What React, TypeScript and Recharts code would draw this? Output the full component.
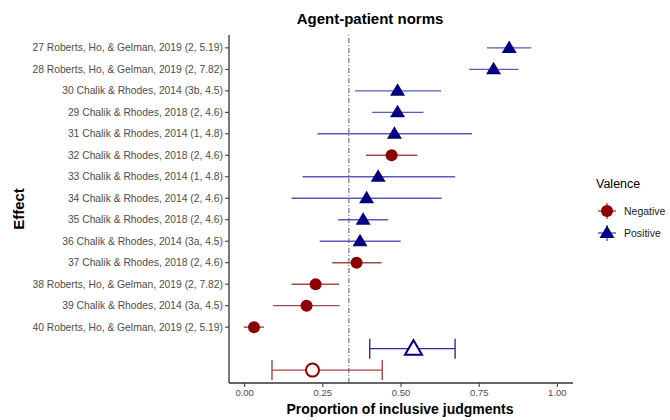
import React from "react";
import {
  ErrorBar,
  ReferenceLine,
  Scatter,
  ScatterChart,
  XAxis,
  YAxis,
} from "recharts";

// study rows, top to bottom
const effectLabels = [
  "27 Roberts, Ho, & Gelman, 2019 (2, 5.19)",
  "28 Roberts, Ho, & Gelman, 2019 (2, 7.82)",
  "30 Chalik & Rhodes, 2014 (3b, 4.5)",
  "29 Chalik & Rhodes, 2018 (2, 4.6)",
  "31 Chalik & Rhodes, 2014 (1, 4.8)",
  "32 Chalik & Rhodes, 2018 (2, 4.6)",
  "33 Chalik & Rhodes, 2014 (1, 4.8)",
  "34 Chalik & Rhodes, 2014 (2, 4.6)",
  "35 Chalik & Rhodes, 2018 (2, 4.6)",
  "36 Chalik & Rhodes, 2014 (3a, 4.5)",
  "37 Chalik & Rhodes, 2018 (2, 4.6)",
  "38 Roberts, Ho, & Gelman, 2019 (2, 7.82)",
  "39 Chalik & Rhodes, 2014 (3a, 4.5)",
  "40 Roberts, Ho, & Gelman, 2019 (2, 5.19)",
];
const valence = [
  "Positive", "Positive", "Positive", "Positive", "Positive", "Negative", "Positive",
  "Positive", "Positive", "Positive", "Negative", "Negative", "Negative", "Negative",
];
const estimates = [0.846, 0.796, 0.489, 0.489, 0.479, 0.47, 0.427, 0.39, 0.379, 0.369, 0.358, 0.227, 0.198, 0.03];
const lower = [0.775, 0.718, 0.353, 0.408, 0.233, 0.388, 0.185, 0.15, 0.299, 0.24, 0.28, 0.15, 0.091, -0.003];
const upper = [0.917, 0.876, 0.628, 0.572, 0.727, 0.552, 0.673, 0.63, 0.459, 0.499, 0.438, 0.302, 0.304, 0.062];

// pooled estimates shown under the studies
const summaryValence = ["Positive", "Negative"];
const summaryEstimates = [0.54, 0.217];
const summaryLower = [0.4, 0.0875];
const summaryUpper = [0.673, 0.44];

const xTicks = [0, 0.25, 0.5, 0.75, 1];
const chance = 1 / 3;

const NEG = "#8b0000";
const POS = "#000080";
const NEG_BAR = "#a84848";
const POS_BAR = "#5a5ab8";

const rows = effectLabels.map((label, i) => ({
  row: i + 1,
  label,
  est: estimates[i],
  err: [estimates[i] - lower[i], upper[i] - estimates[i]],
  valence: valence[i],
}));
const summaryRows = summaryValence.map((v, i) => ({
  row: effectLabels.length + 1 + i,
  est: summaryEstimates[i],
  err: [summaryEstimates[i] - summaryLower[i], summaryUpper[i] - summaryEstimates[i]],
  valence: v,
}));

const negRows = rows.filter((r) => r.valence === "Negative");
const posRows = rows.filter((r) => r.valence === "Positive");
const negSummary = summaryRows.filter((r) => r.valence === "Negative");
const posSummary = summaryRows.filter((r) => r.valence === "Positive");

const font = "'Liberation Sans', Arial, sans-serif";

const FilledCircle = ({ cx, cy }: any) => <circle cx={cx} cy={cy} r={6} fill={NEG} />;
const FilledTriangle = ({ cx, cy }: any) => (
  <polygon points={`${cx},${cy - 7.5} ${cx - 7.5},${cy + 5} ${cx + 7.5},${cy + 5}`} fill={POS} />
);
const HollowCircle = ({ cx, cy }: any) => (
  <circle cx={cx} cy={cy} r={6.5} fill="#fff" stroke={NEG} strokeWidth={2} />
);
const HollowTriangle = ({ cx, cy }: any) => (
  <polygon
    points={`${cx},${cy - 8.5} ${cx - 8.5},${cy + 6} ${cx + 8.5},${cy + 6}`}
    fill="#fff"
    stroke={POS}
    strokeWidth={2}
  />
);

const EffectTick = ({ x, y, payload }: any) => (
  <text
    x={x}
    y={y}
    dy={3.6}
    textAnchor="end"
    fontSize={10.3}
    fill="#4d4d4d"
    fontFamily={font}
  >
    {effectLabels[payload.value - 1] ?? ""}
  </text>
);

export default function App() {
  return (
    <div
      style={{
        position: "absolute",
        left: 0,
        top: 0,
        width: 670,
        height: 420,
        background: "#fff",
        fontFamily: font,
      }}
    >
      <ScatterChart
        width={670}
        height={420}
        margin={{ top: 35, right: 97, bottom: 0, left: 0 }}
      >
        <XAxis
          type="number"
          dataKey="est"
          domain={[-0.05, 1.05]}
          ticks={xTicks}
          tickFormatter={(v: number) => v.toFixed(2)}
          allowDataOverflow
          height={37}
          tickSize={4}
          tickMargin={2}
          axisLine={{ stroke: "#333", strokeWidth: 1.3 }}
          tickLine={{ stroke: "#333" }}
          tick={{ fontSize: 9.5, fill: "#4d4d4d", fontFamily: font }}
        />
        <YAxis
          type="number"
          dataKey="row"
          domain={[0.4, 16.6]}
          reversed
          ticks={rows.map((r) => r.row)}
          interval={0}
          allowDataOverflow
          width={229}
          tickSize={4}
          tickMargin={2}
          axisLine={{ stroke: "#333", strokeWidth: 1.3 }}
          tickLine={{ stroke: "#333" }}
          tick={<EffectTick />}
        />
        <ReferenceLine
          x={chance}
          stroke="#555"
          strokeDasharray="5 2 1 2"
          strokeWidth={1}
        />
        <Scatter data={negRows} shape={FilledCircle} isAnimationActive={false}>
          <ErrorBar dataKey="err" direction="x" width={0} stroke={NEG_BAR} strokeWidth={1.4} />
        </Scatter>
        <Scatter data={posRows} shape={FilledTriangle} isAnimationActive={false}>
          <ErrorBar dataKey="err" direction="x" width={0} stroke={POS_BAR} strokeWidth={1.4} />
        </Scatter>
        <Scatter data={posSummary} shape={HollowTriangle} isAnimationActive={false}>
          <ErrorBar dataKey="err" direction="x" width={10} stroke="#2e2ea0" strokeWidth={1.4} />
        </Scatter>
        <Scatter data={negSummary} shape={HollowCircle} isAnimationActive={false}>
          <ErrorBar dataKey="err" direction="x" width={10} stroke="#a84444" strokeWidth={1.4} />
        </Scatter>
      </ScatterChart>

      <div
        style={{
          position: "absolute",
          left: 270,
          width: 200,
          top: 10,
          textAlign: "center",
          fontWeight: "bold",
          fontSize: 15,
          color: "#000",
        }}
      >
        Agent-patient norms
      </div>
      <div
        style={{
          position: "absolute",
          left: 250,
          width: 300,
          top: 401,
          textAlign: "center",
          fontWeight: "bold",
          fontSize: 14,
          color: "#000",
        }}
      >
        Proportion of inclusive judgments
      </div>
      <div
        style={{
          position: "absolute",
          left: 18,
          top: 209,
          transform: "translate(-50%, -50%) rotate(-90deg)",
          fontWeight: "bold",
          fontSize: 15,
          color: "#000",
        }}
      >
        Effect
      </div>

      <div style={{ position: "absolute", left: 596, top: 177, fontSize: 12.5, color: "#000" }}>
        Valence
      </div>
      {summaryValence
        .slice()
        .reverse()
        .map((v, i) => (
          <div
            key={v}
            style={{
              position: "absolute",
              left: 596,
              top: 201 + i * 22,
              height: 20,
              display: "flex",
              alignItems: "center",
              fontSize: 10.5,
              color: "#222",
            }}
          >
            <svg width={22} height={20} style={{ marginRight: 6 }}>
              <line x1={2} y1={10} x2={20} y2={10} stroke={v === "Negative" ? NEG_BAR : POS_BAR} strokeWidth={1.4} />
              <line x1={11} y1={2} x2={11} y2={18} stroke={v === "Negative" ? NEG_BAR : POS_BAR} strokeWidth={1.4} />
              {v === "Negative" ? (
                <circle cx={11} cy={10} r={6} fill={NEG} />
              ) : (
                <polygon points="11,2.5 3.5,15 18.5,15" fill={POS} />
              )}
            </svg>
            {v}
          </div>
        ))}
    </div>
  );
}
